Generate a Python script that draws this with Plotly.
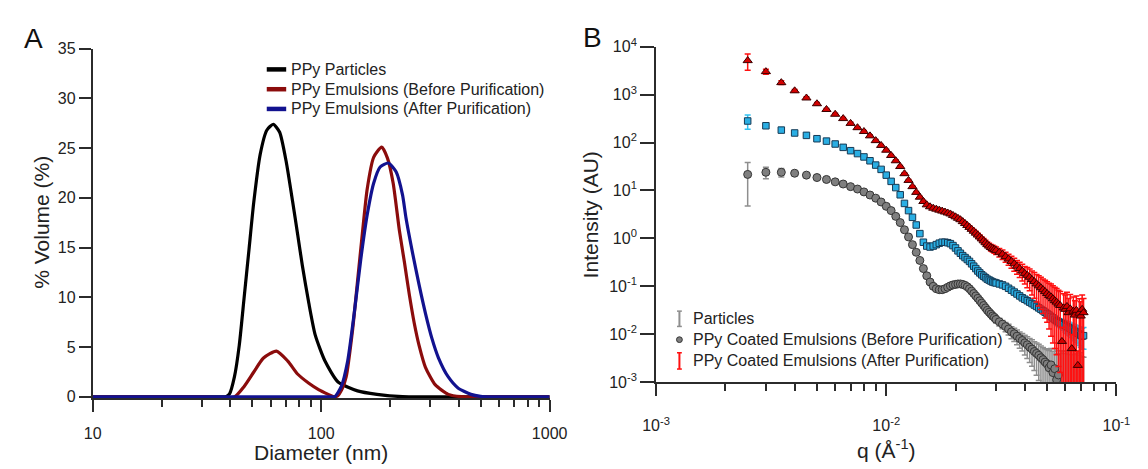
import plotly.graph_objects as go

# ---------------- Panel A : DLS size distributions ----------------
black_d = [10, 30, 37, 38.5, 39.7, 41.7, 43.8, 46.0, 48.3, 50.7, 54.1, 57.8, 61.7, 65.8, 70.2, 75.0,
           78.8, 82.7, 88.3, 94.2, 103.9, 118.5, 144.2, 175.4, 227, 400, 1000]
black_v = [0, 0, 0, 0.05, 0.3, 2.0, 5.2, 10.0, 14.8, 19.6, 24.4, 26.8, 27.4, 26.6, 23.7, 19.6,
           16.4, 13.2, 9.4, 6.2, 3.6, 1.5, 0.6, 0.25, 0.02, 0, 0]

red_d = [10, 30, 41.7, 46.0, 50.7, 55.9, 63.7, 71.4, 78.8, 88.3, 97.4, 107.4, 113, 118, 123.5,
         128.6, 137.3, 144.2, 151.4, 159, 169.8, 184, 195, 206.5, 220, 231.5, 243, 255.5, 268,
         286, 316, 360, 410, 450, 700, 1000]
red_v = [0, 0, 0, 1.05, 2.5, 3.9, 4.6, 3.6, 2.3, 1.37, 0.73, 0.25, 0.03, 0.1, 0.8,
         2.0, 6.8, 11.6, 16.4, 20.9, 24.1, 25.1, 24.0, 21.5, 16.7, 13.5, 10.3, 7.4, 5.2,
         2.97, 1.2, 0.25, 0.02, 0, 0, 0]

blue_d = [10, 60, 110, 114.7, 122.5, 130.6, 139.5, 149, 159, 169.8, 181.2, 196.7, 213, 227,
          235, 251, 268, 286, 305.5, 326, 360, 397, 452, 499, 560, 800, 1000]
blue_v = [0, 0, 0, 0.02, 1.05, 3.6, 8.4, 13.8, 18.3, 21.5, 23.1, 23.5, 22.6, 20.3,
          18.0, 14.5, 11.3, 8.4, 5.85, 3.93, 2.0, 0.9, 0.25, 0.05, 0, 0, 0]

size_names = ["PPy Particles", "PPy Emulsions (Before Purification)", "PPy Emulsions (After Purification)"]
size_colors = ["#000000", "#8b0c0c", "#12128f"]

# ---------------- Panel B : SAXS curves ----------------
q_vals = [0.0025, 0.003, 0.0035, 0.004, 0.0045, 0.005, 0.0055, 0.006, 0.0065, 0.007,
          0.0075, 0.008, 0.0085, 0.009, 0.0095, 0.010, 0.0105, 0.011, 0.0115, 0.012,
          0.0125, 0.013, 0.0135, 0.014, 0.0145, 0.015, 0.0155, 0.016, 0.0165, 0.017,
          0.0175, 0.018, 0.0185, 0.019, 0.0195, 0.020, 0.0205, 0.021, 0.0215, 0.022,
          0.0225, 0.023, 0.0235, 0.024, 0.0245, 0.025, 0.0255, 0.026, 0.0265, 0.027,
          0.0275, 0.028, 0.0285, 0.029, 0.0295, 0.030,
          0.031, 0.032, 0.033, 0.034, 0.035, 0.036, 0.037, 0.038, 0.039, 0.040,
          0.041, 0.042, 0.043, 0.044, 0.045, 0.046, 0.047, 0.048, 0.049, 0.050,
          0.051, 0.052, 0.053, 0.054, 0.055, 0.056, 0.057, 0.058, 0.059, 0.060,
          0.061, 0.062, 0.063, 0.064, 0.065, 0.066, 0.067, 0.068, 0.069, 0.070,
          0.071, 0.072]

# log10 of intensity (AU)
log_I_particles = [1.335, 1.38, 1.38, 1.36, 1.32, 1.27, 1.23, 1.18, 1.135, 1.08,
                   1.03, 0.97, 0.905, 0.84, 0.76, 0.67, 0.58, 0.46, 0.33, 0.18,
                   0.03, -0.13, -0.29, -0.46, -0.63, -0.78, -0.91, -1.00, -1.05, -1.07,
                   -1.07, -1.05, -1.02, -0.99, -0.97, -0.96, -0.95, -0.95, -0.96, -0.98,
                   -1.01, -1.05, -1.10, -1.15, -1.20, -1.25, -1.30, -1.35, -1.40, -1.45,
                   -1.50, -1.54, -1.58, -1.62, -1.65, -1.69,
                   -1.74, -1.79, -1.84, -1.89, -1.95, -1.99, -2.04, -2.09, -2.13, -2.18,
                   -2.22, -2.27, -2.31, -2.36, -2.40, -2.44, -2.49, -2.53, -2.58, -2.62,
                   -2.70, -2.64, -2.80, -2.72, -2.95, -2.85, -3.10, -3.30, -3.50, -3.40,
                   -3.60, -3.50, -3.70, -3.60, -3.80, -3.70, -3.80, -3.90, -3.80, -4.00,
                   -3.90, -4.00]
err_pct_particles = [78, 27, 20, 8, 5, 4, 4, 4, 4, 4,
                     4, 4, 4, 4, 4, 4, 4, 4, 4, 4,
                     4, 4, 4, 4, 4, 4, 4, 4, 4, 4,
                     4, 4, 4, 4, 4, 4, 4, 4, 4, 4,
                     5, 5, 6, 6, 7, 7, 8, 8, 9, 10,
                     11, 12, 13, 14, 15, 16,
                     18, 20, 22, 25, 28, 31, 34, 37, 40, 44,
                     48, 52, 56, 60, 65, 70, 75, 80, 90, 100,
                     130, 120, 180, 160, 250, 220, 400, 800, 1300, 900,
                     1700, 1100, 2200, 1400, 2800, 1800, 2400, 3500, 2200, 4000,
                     2600, 3200]

log_I_before = [2.45, 2.35, 2.26, 2.20, 2.15, 2.08, 2.03, 1.97, 1.90, 1.83,
                1.77, 1.70, 1.62, 1.53, 1.44, 1.32, 1.19, 1.06, 0.91, 0.73,
                0.58, 0.44, 0.28, 0.10, -0.08, -0.16, -0.18, -0.16, -0.13, -0.10,
                -0.08, -0.08, -0.09, -0.11, -0.15, -0.20, -0.26, -0.31, -0.36, -0.40,
                -0.44, -0.48, -0.53, -0.58, -0.63, -0.68, -0.72, -0.76, -0.79, -0.82,
                -0.85, -0.87, -0.89, -0.91, -0.92, -0.93,
                -0.95, -0.97, -1.00, -1.04, -1.08, -1.12, -1.16, -1.20, -1.24, -1.27,
                -1.30, -1.33, -1.36, -1.39, -1.42, -1.45, -1.48, -1.51, -1.54, -1.57,
                -1.60, -1.63, -1.66, -1.69, -1.72, -1.74, -1.76, -1.78, -1.80, -1.82,
                -1.84, -1.86, -1.88, -1.90, -1.92, -1.94, -1.96, -1.98, -2.00, -2.02,
                -2.04, -2.03]
err_pct_before = [33, 9, 6, 4, 4, 4, 4, 4, 4, 4,
                  4, 4, 4, 4, 4, 4, 4, 4, 4, 4,
                  4, 4, 4, 4, 4, 4, 4, 4, 4, 4,
                  4, 4, 4, 4, 4, 4, 4, 4, 4, 4,
                  4, 4, 4, 4, 4, 4, 4, 4, 4, 4,
                  4, 4, 4, 4, 4, 4,
                  5, 5, 5, 5, 5, 5, 5, 5, 5, 5,
                  7, 7, 8, 8, 9, 10, 10, 11, 12, 13,
                  14, 15, 16, 17, 18, 19, 20, 22, 24, 26,
                  28, 30, 30, 32, 34, 36, 38, 40, 42, 44,
                  46, 48]

log_I_after = [3.71, 3.48, 3.25, 3.08, 2.93, 2.81, 2.69, 2.59, 2.50, 2.40,
               2.31, 2.23, 2.14, 2.04, 1.94, 1.84, 1.73, 1.62, 1.50, 1.35,
               1.21, 1.08, 0.96, 0.86, 0.77, 0.70, 0.66, 0.63, 0.61, 0.59,
               0.57, 0.55, 0.53, 0.51, 0.48, 0.45, 0.42, 0.39, 0.35, 0.31,
               0.27, 0.23, 0.19, 0.15, 0.11, 0.07, 0.03, -0.01, -0.05, -0.09,
               -0.13, -0.16, -0.19, -0.21, -0.23, -0.25,
               -0.29, -0.33, -0.38, -0.43, -0.48, -0.53, -0.58, -0.63, -0.68, -0.73,
               -0.77, -0.81, -0.86, -0.90, -0.95, -0.99, -1.03, -1.07, -1.11, -1.15,
               -1.19, -1.22, -1.26, -1.30, -1.33, -1.37, -1.40, -2.15, -1.45, -1.48,
               -1.42, -1.55, -1.47, -2.30, -1.52, -1.60, -1.50, -2.65, -1.56, -1.62,
               -1.48, -1.55]
err_pct_after = [37, 12, 9, 7, 6, 6, 5, 5, 5, 5,
                 5, 5, 5, 5, 5, 5, 5, 5, 5, 5,
                 5, 5, 5, 5, 5, 5, 5, 5, 5, 5,
                 5, 5, 5, 5, 5, 5, 6, 6, 6, 7,
                 7, 7, 8, 8, 9, 9, 10, 10, 11, 12,
                 13, 14, 15, 16, 17, 18,
                 20, 22, 24, 26, 28, 30, 32, 35, 38, 40,
                 45, 48, 52, 55, 58, 62, 65, 68, 72, 75,
                 80, 85, 88, 90, 92, 95, 96, 97, 98, 98,
                 99, 98, 99, 98, 99, 98, 99, 98, 99, 98,
                 99, 98]

saxs_names = ["Particles", "PPy Coated Emulsions (Before Purification)",
              "PPy Coated Emulsions (After Purification)"]

FONT = "Liberation Sans, Arial, Helvetica, sans-serif"
AXC = "#2b2b2b"
TXT = "#222222"
W, H = 1148, 469

fig = go.Figure()

# Panel A lines
for d, v, c, n in [(black_d, black_v, size_colors[0], size_names[0]),
                   (red_d, red_v, size_colors[1], size_names[1]),
                   (blue_d, blue_v, size_colors[2], size_names[2])]:
    fig.add_trace(go.Scatter(x=d, y=v, mode="lines", name=n, xaxis="x", yaxis="y",
                             line=dict(color=c, width=3.2, shape="spline", smoothing=0.6),
                             showlegend=False))

# Panel B scatter with error bars
series_b = [
    (log_I_particles, err_pct_particles, "circle", 8, "#7f7f7f", "#353535", "#8e8e8e", saxs_names[0]),
    (log_I_before, err_pct_before, "square", 6.5, "#2aaee3", "#163a55", "#33c2f2", saxs_names[1]),
    (log_I_after, err_pct_after, "triangle-up", 8, "#d40000", "#3a0000", "#ff1010", saxs_names[2]),
]
for logI, pct, sym, sz, fill, edge, ecol, n in series_b:
    inten = [10 ** v for v in logI]
    err = [i * p / 100.0 for i, p in zip(inten, pct)]
    fig.add_trace(go.Scatter(x=q_vals, y=inten, mode="markers", name=n, xaxis="x2", yaxis="y2",
                             marker=dict(symbol=sym, size=sz, color=fill,
                                         line=dict(color=edge, width=1)),
                             error_y=dict(type="data", array=err, visible=True, color=ecol,
                                          thickness=1.5, width=3),
                             showlegend=False))

def px2x(p):
    return p / W

def px2y(p):
    return 1 - p / H

axis_common = dict(showline=True, linecolor=AXC, linewidth=2, ticks="outside",
                   tickcolor=AXC, tickwidth=2, showgrid=False, zeroline=False,
                   tickfont=dict(family=FONT, size=16, color=TXT))

fig.update_layout(
    width=W, height=469,
    margin=dict(l=0, r=0, t=0, b=0),
    paper_bgcolor="white", plot_bgcolor="white",
    font=dict(family=FONT, size=16, color=TXT),
    showlegend=False,
    xaxis=dict(type="log", range=[1, 3], domain=[px2x(81), px2x(551)], anchor="y",
               tickmode="array", tickvals=[10, 100, 1000], ticktext=["10", "100", "1000"],
               ticklen=12, ticklabelstandoff=8,
               minor=dict(tickmode="array",
                          tickvals=[20, 30, 40, 50, 60, 70, 80, 90, 200, 300, 400, 500, 600, 700, 800, 900],
                          ticks="outside", ticklen=7, tickwidth=1.5, tickcolor=AXC, showgrid=False),
               **axis_common),
    yaxis=dict(range=[-0.12, 35], domain=[px2y(404.3), px2y(39.3)], anchor="x",
               tickmode="array", tickvals=[0, 5, 10, 15, 20, 25, 30, 35], ticklen=12,
               **axis_common),
    xaxis2=dict(type="log", range=[-3, -1], domain=[px2x(660.5), px2x(1134)], anchor="y2",
                tickmode="array", tickvals=[0.001, 0.01, 0.1],
                ticktext=["10<sup>-3</sup>", "10<sup>-2</sup>", "10<sup>-1</sup>"],
                ticklen=12, ticklabelstandoff=16,
                minor=dict(tickmode="array",
                           tickvals=[0.002, 0.003, 0.004, 0.005, 0.006, 0.007, 0.008, 0.009,
                                     0.02, 0.03, 0.04, 0.05, 0.06, 0.07, 0.08, 0.09],
                           ticks="outside", ticklen=7, tickwidth=1.5, tickcolor=AXC, showgrid=False),
                **axis_common),
    yaxis2=dict(type="log", range=[-3, 4], domain=[px2y(387.7), px2y(37.3)], anchor="x2",
                tickmode="array",
                tickvals=[1e-3, 1e-2, 1e-1, 1, 10, 100, 1000, 10000],
                ticktext=["10<sup>-3</sup>", "10<sup>-2</sup>", "10<sup>-1</sup>", "10<sup>0</sup>",
                          "10<sup>1</sup>", "10<sup>2</sup>", "10<sup>3</sup>", "10<sup>4</sup>"],
                ticklen=14,
                **axis_common),
)

ann = []
# axis titles
ann.append(dict(text="Diameter (nm)", x=px2x(316), y=px2y(461), xref="paper", yref="paper",
                showarrow=False, xanchor="center", yanchor="middle", font=dict(size=21, family=FONT, color=TXT)))
ann.append(dict(text="% Volume (%)", x=px2x(28), y=px2y(221), xref="paper", yref="paper", textangle=-90,
                showarrow=False, xanchor="center", yanchor="middle", font=dict(size=21, family=FONT, color=TXT)))
ann.append(dict(text="q (Å<sup>-1</sup>)", x=px2x(897.5), y=px2y(458), xref="paper", yref="paper",
                showarrow=False, xanchor="center", yanchor="middle", font=dict(size=21, family=FONT, color=TXT)))
ann.append(dict(text="Intensity (AU)", x=px2x(593), y=px2y(213), xref="paper", yref="paper", textangle=-90,
                showarrow=False, xanchor="center", yanchor="middle", font=dict(size=21, family=FONT, color=TXT)))
# panel letters
ann.append(dict(text="A", x=px2x(20), y=px2y(29), xref="paper", yref="paper",
                showarrow=False, xanchor="center", yanchor="middle", font=dict(size=28, family=FONT, color="#111")))
ann.append(dict(text="B", x=px2x(595), y=px2y(28), xref="paper", yref="paper",
                showarrow=False, xanchor="center", yanchor="middle", font=dict(size=28, family=FONT, color="#111")))

shapes = []
# Legend A
legA_rows = [61, 81.7, 102.3]
for row, name, col in zip(legA_rows, size_names, size_colors):
    shapes.append(dict(type="line", xref="paper", yref="paper", x0=px2x(260), x1=px2x(280),
                       y0=px2y(row), y1=px2y(row), line=dict(color=col, width=4.5)))
    ann.append(dict(text=name, x=px2x(283), y=px2y(row), xref="paper", yref="paper",
                    showarrow=False, xanchor="left", yanchor="middle", font=dict(size=16, family=FONT, color=TXT)))

# Legend B
legB_rows = [321.7, 343.3, 365]
gx = 684.5
def ibar(top, bot, col):
    out = [dict(type="line", xref="paper", yref="paper", x0=px2x(gx), x1=px2x(gx),
                y0=px2y(top), y1=px2y(bot), line=dict(color=col, width=2))]
    for yy in (top, bot):
        out.append(dict(type="line", xref="paper", yref="paper", x0=px2x(gx - 2.5), x1=px2x(gx + 2.5),
                        y0=px2y(yy), y1=px2y(yy), line=dict(color=col, width=1.5)))
    return out
shapes += ibar(313.5, 329.5, "#8e8e8e")
shapes.append(dict(type="circle", xref="paper", yref="paper", x0=px2x(gx - 3), x1=px2x(gx + 3),
                   y0=px2y(343.3 - 3), y1=px2y(343.3 + 3), fillcolor="#7f7f7f", line=dict(color="#353535", width=1)))
shapes += ibar(357, 374, "#ff1010")
for row, name in zip(legB_rows, saxs_names):
    ann.append(dict(text=name, x=px2x(696.5), y=px2y(row), xref="paper", yref="paper",
                    showarrow=False, xanchor="left", yanchor="middle", font=dict(size=16, family=FONT, color=TXT)))

fig.update_layout(annotations=ann, shapes=shapes)

fig.write_html("out.html", config={"displayModeBar": False},
               post_script="document.body.style.margin='0';")
